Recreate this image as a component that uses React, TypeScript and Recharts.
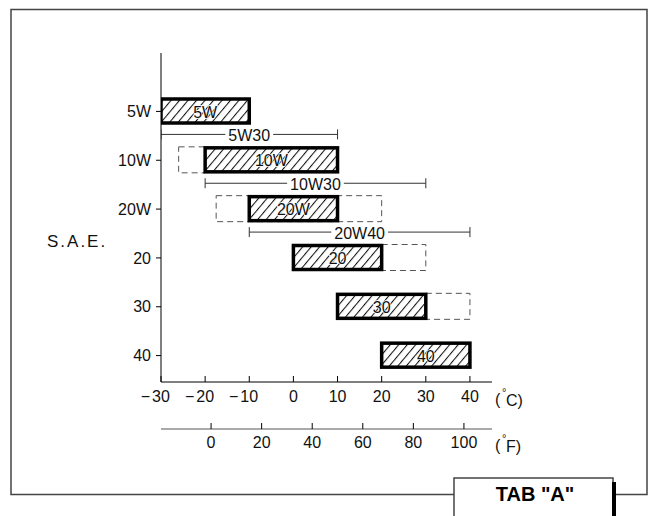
import React from 'react';
import { ComposedChart, Bar, XAxis, YAxis } from 'recharts';

const FONT = '"Liberation Sans", Arial, sans-serif';

// S.A.E. grades, top to bottom
const grades = ['5W', '10W', '20W', '20', '30', '40'];
// recommended (hatched) range, °C
const solidLow = [-30, -20, -10, 0, 10, 20];
const solidHigh = [-10, 10, 10, 20, 30, 40];
// permitted extension (dashed), °C
const dashLow = [null, -26, -17.5, 20, 30, null];
const dashHigh = [null, -20, 20, 30, 40, null];
// multigrade oils, drawn under the grade they start from
const multiNames = ['5W30', '10W30', '20W40', null, null, null];
const multiLow = [-30, -20, -10, null, null, null];
const multiHigh = [10, 30, 40, null, null, null];

const celsiusTicks = [-30, -20, -10, 0, 10, 20, 30, 40];
const fahrenheitTicks = [0, 20, 40, 60, 80, 100];

const rows = grades.map((g, i) => ({
  grade: g,
  solid: [solidLow[i], solidHigh[i]],
  dashed: dashLow[i] == null ? null : [dashLow[i], dashHigh[i]],
  multi: multiLow[i] == null ? null : [multiLow[i], multiHigh[i]],
  multiName: multiNames[i],
}));

// layout
const W = 651;
const H = 516;
const PLOT_TOP = 53;
const PAD_TOP = 34;
const PAD_BOTTOM = 2;
const C_AXIS_H = 47;
const F_AXIS_H = 30;
const MARGIN = { top: PLOT_TOP, right: 159, bottom: 57, left: 101 };
const PLOT_BOTTOM = H - MARGIN.bottom - C_AXIS_H - F_AXIS_H;
const ROW = (PLOT_BOTTOM - PLOT_TOP - PAD_TOP - PAD_BOTTOM) / grades.length;

const textWidth = (s: string, fs: number) =>
  s.split('').reduce((w, c) => w + (c === 'W' ? 0.944 : 0.556), 0) * fs;

const HatchBar = (props: any) => {
  const { x, y, width, height, index, payload } = props;
  if (!payload || !width) return <g />;
  const id = `hatch-${index}`;
  return (
    <g>
      <defs>
        <pattern id={id} patternUnits="userSpaceOnUse" width={6.5} height={6.5} patternTransform="rotate(40)">
          <line x1={0.5} y1={0} x2={0.5} y2={6.5} stroke="#111" strokeWidth={1.1} />
        </pattern>
      </defs>
      <rect x={x} y={y} width={width} height={height} fill="#fff" />
      <rect x={x} y={y} width={width} height={height} fill={`url(#${id})`} stroke="#000" strokeWidth={3.5} />
      <text
        x={x + width / 2}
        y={y + height / 2 + 1}
        textAnchor="middle"
        dominantBaseline="central"
        fontFamily={FONT}
        fontSize={16}
        fill="#111"
        stroke="#fff"
        strokeWidth={1.5}
        paintOrder="stroke"
      >
        {payload.grade}
      </text>
    </g>
  );
};

const DashedBar = (props: any) => {
  const { x, y, width, height, payload } = props;
  if (!payload || !payload.dashed || !width) return <g />;
  return (
    <rect x={x} y={y} width={width} height={height} fill="none" stroke="#555" strokeWidth={1} strokeDasharray="6 4" />
  );
};

const MultiLine = (props: any) => {
  const { x, y, width, height, payload } = props;
  if (!payload || !payload.multi || !width) return <g />;
  const ly = y + height / 2 + ROW / 2 - 1;
  const name = payload.multiName as string;
  const tw = textWidth(name, 16);
  const cx = x + width / 2;
  return (
    <g>
      <line x1={x} x2={x + width} y1={ly} y2={ly} stroke="#333" strokeWidth={1} />
      <line x1={x} x2={x} y1={ly - 5} y2={ly + 5} stroke="#333" strokeWidth={1} />
      <line x1={x + width} x2={x + width} y1={ly - 5} y2={ly + 5} stroke="#333" strokeWidth={1} />
      <rect x={cx - tw / 2 - 3} y={ly - 8} width={tw + 6} height={16} fill="#fff" />
      <text x={cx} y={ly + 1} textAnchor="middle" dominantBaseline="central" fontFamily={FONT} fontSize={16} fill="#111">
        {name}
      </text>
    </g>
  );
};

const makeTick = (labelOffset: number) => (props: any) => {
  const { x, y, payload } = props;
  const v = payload.value as number;
  const s = String(Math.abs(v));
  const half = (s.length * 0.556 * 16) / 2;
  return (
    <g>
      <line x1={x} x2={x} y1={y} y2={y - 6} stroke="#000" strokeWidth={1} />
      {v < 0 && (
        <text x={x - half - 2} y={y + labelOffset} textAnchor="end" dominantBaseline="central" fontFamily={FONT} fontSize={16} fill="#111">
          −
        </text>
      )}
      <text x={x} y={y + labelOffset} textAnchor="middle" dominantBaseline="central" fontFamily={FONT} fontSize={16} fill="#111">
        {s}
      </text>
    </g>
  );
};

const CTick = makeTick(14);
const FTick = makeTick(13);

const App: React.FC = () => {
  return (
    <div style={{ position: 'absolute', left: 0, top: 0, width: W, height: H, background: '#fff', overflow: 'hidden' }}>
      <ComposedChart
        width={W}
        height={H}
        layout="vertical"
        data={rows}
        margin={MARGIN}
        style={{ position: 'absolute', left: 0, top: 0 }}
      >
        <XAxis
          xAxisId="c"
          type="number"
          domain={[-30, 45]}
          allowDataOverflow
          ticks={celsiusTicks}
          interval={0}
          height={C_AXIS_H}
          stroke="#000"
          axisLine={{ stroke: '#000' }}
          tickLine={false}
          tickSize={0}
          tickMargin={0}
          tick={CTick}
        />
        <XAxis
          xAxisId="f"
          type="number"
          domain={[-19.8, 111.1]}
          allowDataOverflow
          ticks={fahrenheitTicks}
          interval={0}
          height={F_AXIS_H}
          stroke="#000"
          axisLine={{ stroke: '#555' }}
          tickLine={false}
          tickSize={0}
          tickMargin={0}
          tick={FTick}
        />
        <YAxis
          yAxisId="main"
          type="category"
          dataKey="grade"
          width={60}
          padding={{ top: PAD_TOP, bottom: PAD_BOTTOM }}
          interval={0}
          stroke="#000"
          axisLine={{ stroke: '#000' }}
          tickLine={{ stroke: '#000' }}
          tickSize={5}
          tickMargin={5}
          tick={{ fill: '#111', fontSize: 16, fontFamily: FONT }}
        />
        <YAxis yAxisId="ext" type="category" dataKey="grade" hide width={0} padding={{ top: PAD_TOP, bottom: PAD_BOTTOM }} />
        <YAxis yAxisId="multi" type="category" dataKey="grade" hide width={0} padding={{ top: PAD_TOP, bottom: PAD_BOTTOM }} />

        <Bar xAxisId="c" yAxisId="ext" dataKey="dashed" barSize={26} shape={DashedBar} isAnimationActive={false} />
        <Bar xAxisId="c" yAxisId="main" dataKey="solid" barSize={24} shape={HatchBar} isAnimationActive={false} />
        <Bar xAxisId="c" yAxisId="multi" dataKey="multi" barSize={2} shape={MultiLine} isAnimationActive={false} />
      </ComposedChart>

      <svg width={W} height={H} style={{ position: 'absolute', left: 0, top: 0, pointerEvents: 'none' }}>
        <rect x={11} y={9.5} width={636} height={485} fill="none" stroke="#444" strokeWidth={1.5} />
        <text x={47} y={241} dominantBaseline="central" fontFamily={FONT} fontSize={17} letterSpacing={2} fill="#111">
          S.A.E.
        </text>
        <text x={495} y={399} dominantBaseline="central" fontFamily={FONT} fontSize={16} fill="#111">
          (
        </text>
        <text x={502} y={392} dominantBaseline="central" fontFamily={FONT} fontSize={11} fill="#111">
          °
        </text>
        <text x={506} y={400} dominantBaseline="central" fontFamily={FONT} fontSize={16} fill="#111">
          C)
        </text>
        <text x={495} y={445} dominantBaseline="central" fontFamily={FONT} fontSize={16} fill="#111">
          (
        </text>
        <text x={502} y={438} dominantBaseline="central" fontFamily={FONT} fontSize={11} fill="#111">
          °
        </text>
        <text x={506} y={446} dominantBaseline="central" fontFamily={FONT} fontSize={16} fill="#111">
          F)
        </text>
        <rect x={454} y={478} width={159} height={60} fill="#fff" stroke="#444" strokeWidth={1.5} />
        <rect x={612} y={482} width={4} height={40} fill="#000" />
        <text x={535} y={494} textAnchor="middle" dominantBaseline="central" fontFamily={FONT} fontWeight="bold" fontSize={20} fill="#000">
          TAB "A"
        </text>
      </svg>
    </div>
  );
};

export default App;
